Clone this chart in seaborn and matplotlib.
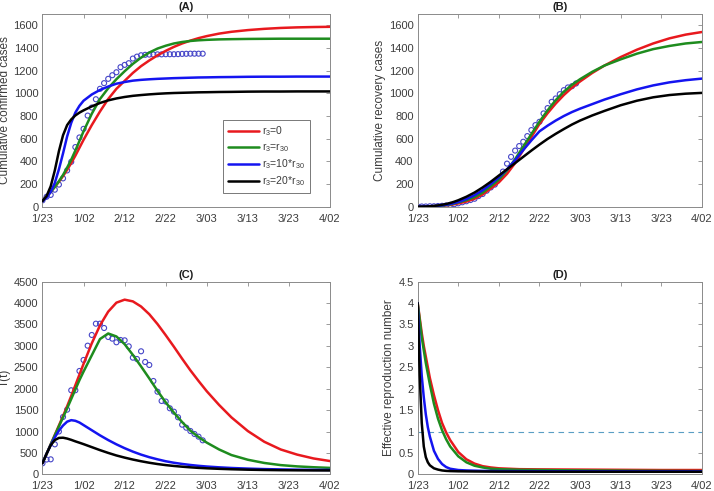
import numpy as np
import matplotlib
matplotlib.use("Agg")
import matplotlib.pyplot as plt
from matplotlib.ticker import FuncFormatter
import seaborn as sns

sns.set_style("white")
plt.rcParams['font.family'] = ['Liberation Sans', 'DejaVu Sans']
plt.rcParams['mathtext.fontset'] = 'custom'
plt.rcParams['mathtext.rm'] = 'Liberation Sans'
plt.rcParams['mathtext.it'] = 'Liberation Sans'
plt.rcParams['mathtext.default'] = 'regular'

# x axis: days since 1/23
tick_days = [0, 10, 20, 30, 40, 50, 60, 70]
tick_labels = ['1/23', '1/02', '2/12', '2/22', '3/03', '3/13', '3/23', '4/02']

# model output sampled on these days
days = [0, 1, 2, 3, 4, 5, 6, 7, 8, 9, 10, 12, 14, 16, 18, 20, 22, 24, 26, 28,
        30, 32, 34, 36, 38, 40, 43, 46, 50, 54, 58, 62, 66, 70]

# (A) cumulative confirmed
conf_r0 = [50, 90, 130, 175, 220, 270, 325, 385, 450, 520, 590, 720, 840, 950, 1040,
           1110, 1180, 1240, 1290, 1335,
           1375, 1410, 1440, 1465, 1487, 1505, 1527, 1543, 1558, 1569, 1577, 1582, 1585, 1587]
conf_r1 = [50, 90, 130, 175, 225, 280, 345, 415, 495, 580, 665, 820, 950, 1045, 1125,
           1195, 1260, 1315, 1360, 1395,
           1420, 1440, 1453, 1462, 1468, 1472, 1476, 1478, 1480, 1481, 1482, 1482, 1482, 1482]
conf_r10 = [50, 80, 130, 210, 330, 470, 620, 740, 830, 890, 935, 990, 1030, 1060, 1085,
            1100, 1112, 1119, 1124, 1128,
            1131, 1134, 1136, 1138, 1140, 1141, 1143, 1144, 1146, 1147, 1147, 1148, 1148, 1148]
conf_r20 = [50, 95, 180, 320, 490, 630, 720, 770, 805, 830, 850, 885, 915, 938, 955,
            968, 978, 985, 991, 996,
            1000, 1003, 1005, 1007, 1009, 1010, 1012, 1013, 1015, 1016, 1016, 1017, 1017, 1017]

# (B) cumulative recovery
rec_r0 = [0, 0, 1, 2, 4, 6, 9, 12, 16, 22, 29, 45, 70, 108, 160, 215, 290, 385, 500, 615,
          730, 825, 910, 985, 1050, 1105, 1180, 1245, 1320, 1385, 1440, 1485, 1518, 1541]
rec_r1 = [0, 0, 1, 2, 4, 7, 10, 14, 20, 28, 38, 58, 85, 125, 180, 240, 320, 420, 530, 640,
          750, 850, 940, 1015, 1075, 1125, 1190, 1245, 1300, 1350, 1390, 1418, 1440, 1453]
rec_r10 = [0, 1, 2, 3, 5, 8, 12, 17, 24, 32, 42, 68, 102, 145, 200, 260, 330, 410, 500, 585,
           665, 715, 760, 800, 835, 865, 905, 945, 992, 1035, 1070, 1097, 1116, 1130]
rec_r20 = [0, 1, 2, 4, 7, 11, 17, 24, 33, 44, 57, 88, 125, 170, 220, 275, 330, 385, 440, 495,
           548, 598, 643, 685, 725, 760, 805, 845, 895, 935, 965, 985, 997, 1004]

# (C) T(t)
t_r0 = [260, 480, 700, 920, 1140, 1360, 1590, 1830, 2080, 2330, 2580, 3060, 3480, 3800, 4010,
        4080, 4040, 3920, 3740, 3510,
        3250, 2980, 2700, 2430, 2180, 1940, 1620, 1330, 1010, 760, 580, 460, 370, 310]
t_r1 = [260, 480, 700, 910, 1120, 1330, 1540, 1760, 1980, 2200, 2400, 2780, 3160, 3290, 3220,
        3040, 2790, 2520, 2240, 1950,
        1680, 1440, 1220, 1020, 870, 740, 580, 450, 340, 265, 215, 185, 165, 150]
t_r10 = [260, 480, 680, 860, 1020, 1140, 1230, 1265, 1250, 1210, 1150, 1030, 910, 800, 700,
         610, 530, 460, 400, 350,
         305, 270, 242, 218, 198, 182, 163, 148, 133, 122, 114, 108, 104, 102]
t_r20 = [260, 480, 680, 800, 850, 855, 835, 805, 770, 738, 705, 635, 565, 500, 440,
         390, 345, 305, 270, 240,
         215, 195, 178, 163, 150, 140, 128, 118, 108, 101, 96, 93, 91, 90]

# (D) effective reproduction number
d_days = [0, 0.5, 1, 1.5, 2, 2.5, 3, 4, 5, 6, 7, 8, 10, 12, 14, 16, 18, 20, 25, 30, 40, 50, 60, 70]
re_r0 = [4.0, 3.65, 3.3, 3.0, 2.75, 2.5, 2.25, 1.85, 1.5, 1.2, 0.98, 0.8, 0.52, 0.35, 0.25, 0.19,
         0.16, 0.14, 0.12, 0.115, 0.11, 0.105, 0.1, 0.1]
re_r1 = [4.0, 3.6, 3.2, 2.9, 2.6, 2.35, 2.1, 1.65, 1.3, 1.03, 0.82, 0.65, 0.42, 0.28, 0.2, 0.16,
         0.13, 0.12, 0.105, 0.1, 0.09, 0.085, 0.08, 0.075]
re_r10 = [4.0, 3.0, 2.3, 1.8, 1.4, 1.1, 0.88, 0.55, 0.36, 0.24, 0.17, 0.13, 0.1, 0.09, 0.085, 0.08,
          0.078, 0.076, 0.074, 0.072, 0.07, 0.07, 0.07, 0.07]
re_r20 = [4.0, 2.3, 1.2, 0.65, 0.4, 0.28, 0.21, 0.14, 0.11, 0.09, 0.08, 0.075, 0.07, 0.068, 0.066,
          0.065, 0.064, 0.063, 0.062, 0.061, 0.06, 0.06, 0.06, 0.06]

# reported data, one point per day from 1/23
obs_days = list(range(40))
obs_confirmed = [56, 88, 104, 150, 195, 250, 320, 396, 526, 611, 687, 804, 875, 948, 1040, 1090,
                 1128, 1160, 1186, 1231, 1251, 1266, 1307, 1324, 1336, 1340, 1342, 1343, 1344, 1344,
                 1345, 1345, 1345, 1346, 1348, 1349, 1350, 1350, 1350, 1350]
obs_recovered = [2, 2, 2, 4, 4, 6, 8, 11, 16, 22, 30, 39, 48, 59, 70, 94, 112, 141, 170, 195,
                 245, 310, 380, 440, 495, 535, 573, 623, 676, 720, 749, 823, 870, 925, 955, 993,
                 1028, 1052, 1063, 1087]
obs_T = [257, 345, 350, 700, 1000, 1339, 1510, 1963, 1963, 2414, 2671, 3005, 3255, 3519, 3519,
         3418, 3208, 3169, 3084, 3138, 3130, 2990, 2725, 2694, 2874, 2624, 2554, 2180, 1930, 1713,
         1700, 1542, 1463, 1332, 1159, 1089, 1012, 942, 879, 794]

labels = [r'r$_3$=0', r'r$_3$=r$_{30}$', r'r$_3$=10*r$_{30}$', r'r$_3$=20*r$_{30}$']
colors = ['#e8191e', '#1e8c1e', '#1414f0', '#000000']
obs_color = '#4646c8'


def style_axes(ax, ymax, yticks, title, ylabel):
    ax.set_xlim(0, 70)
    ax.set_ylim(0, ymax)
    ax.set_xticks(tick_days)
    ax.set_xticklabels(tick_labels)
    ax.set_yticks(yticks)
    ax.yaxis.set_major_formatter(FuncFormatter(lambda v, p: f'{v:g}'))
    ax.tick_params(direction='in', top=True, right=True, length=3, width=0.6,
                   colors='#8a8a8a', labelcolor='#3c3c3c', labelsize=8, pad=3)
    ax.tick_params(axis='x', pad=5)
    for s in ax.spines.values():
        s.set_color('#8a8a8a')
        s.set_linewidth(0.7)
    ax.set_title(title, fontsize=8, fontweight='bold', color='#1e1e1e', pad=3)
    ax.set_ylabel(ylabel, fontsize=8.5, color='#3c3c3c', labelpad=2)
    ax.set_xlabel('')


def draw_curves(ax, x, series, with_labels=False):
    for vals, c, lab in zip(series, colors, labels):
        sns.lineplot(x=x, y=vals, ax=ax, color=c, linewidth=1.8,
                     label=lab if with_labels else None, zorder=3)
    if ax.get_legend() is not None and not with_labels:
        ax.get_legend().remove()


def draw_obs(ax, y):
    sns.scatterplot(x=obs_days, y=y, ax=ax, marker='o', s=13, facecolor='none',
                    edgecolor=obs_color, linewidth=0.8, zorder=2)


fig = plt.figure(figsize=(7.14, 4.91), dpi=100)
axA = fig.add_axes([0.0595, 0.5790, 0.4027, 0.3925])
axB = fig.add_axes([0.5850, 0.5790, 0.3980, 0.3925])
axC = fig.add_axes([0.0595, 0.0340, 0.4027, 0.3923])
axD = fig.add_axes([0.5850, 0.0340, 0.3980, 0.3923])

# (A)
draw_obs(axA, obs_confirmed)
draw_curves(axA, days, [conf_r0, conf_r1, conf_r10, conf_r20], with_labels=True)
style_axes(axA, 1700, list(range(0, 1601, 200)), '(A)', 'Cumulative confirmed cases')
leg = axA.legend(loc='lower right', bbox_to_anchor=(0.93, 0.072), fontsize=7.5,
                 frameon=True, fancybox=False, edgecolor='#3c3c3c', handlelength=3.0,
                 labelspacing=0.3, borderpad=0.45, handletextpad=0.3, borderaxespad=0)
leg.get_frame().set_linewidth(0.6)
for t in leg.get_texts():
    t.set_color('#3c3c3c')

# (B)
draw_obs(axB, obs_recovered)
draw_curves(axB, days, [rec_r0, rec_r1, rec_r10, rec_r20])
style_axes(axB, 1700, list(range(0, 1601, 200)), '(B)', 'Cumulative recovery cases')

# (C)
draw_obs(axC, obs_T)
draw_curves(axC, days, [t_r0, t_r1, t_r10, t_r20])
style_axes(axC, 4500, list(range(0, 4501, 500)), '(C)', 'T(t)')

# (D)
axD.axhline(1, color='#5a9ec4', linestyle=(0, (5, 4)), linewidth=0.8, zorder=1)
draw_curves(axD, d_days, [re_r0, re_r1, re_r10, re_r20])
style_axes(axD, 4.5, [0, 0.5, 1, 1.5, 2, 2.5, 3, 3.5, 4, 4.5], '(D)',
           'Effective reproduction number')

fig.savefig('out.png', dpi=100)
plt.close(fig)
